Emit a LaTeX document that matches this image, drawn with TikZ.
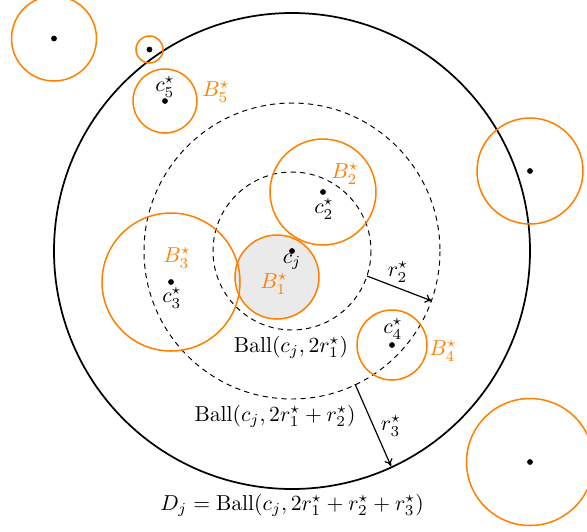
\documentclass[tikz,border=0pt]{standalone}
\usetikzlibrary{arrows.meta}
\definecolor{ballorange}{RGB}{255,128,0}
\definecolor{ballgray}{RGB}{234,234,234}
\tikzset{
  ob/.style={draw=ballorange, line width=0.7pt},
  dsh/.style={draw=black, dash pattern=on 2.4pt off 2pt, line width=0.45pt},
  pt/.style={fill=black},
  olab/.style={text=ballorange},
  arr/.style={-{To[length=3.2pt,width=4pt]}, line width=0.55pt}
}
\begin{document}
\begin{tikzpicture}[x=0.4625pt,y=-0.4625pt]
\useasboundingbox (0,0) rectangle (587,531);
\clip (0,0) rectangle (587,531);
% centres
\coordinate (cj) at (292,251);
\coordinate (c1) at (277,277);
\coordinate (c2) at (323,192);
\coordinate (c3) at (171,282);
\coordinate (c4) at (392,345);
\coordinate (c5) at (165,101);
\coordinate (o1) at (54,38.5);
\coordinate (o2) at (149.5,49.5);
\coordinate (o3) at (530,171);
\coordinate (o4) at (530,462);
% B1 filled
\fill[ballgray] (c1) circle (42);
\draw[ob] (c1) circle (42);
% dashed balls
\draw[dsh] (cj) circle (79);
\draw[dsh] (cj) circle (148);
% D_j
\draw[line width=0.8pt] (cj) circle (238);
% other balls
\draw[ob] (c2) circle (53);
\draw[ob] (c3) circle (69);
\draw[ob] (c4) circle (35);
\draw[ob] (c5) circle (32);
\draw[ob] (o1) circle (42.5);
\draw[ob] (o2) circle (13.5);
\draw[ob] (o3) circle (53);
\draw[ob] (o4) circle (63.5);
% dots
\foreach \p in {cj,c2,c3,c4,c5,o1,o2,o3,o4}
  \fill[pt] (\p) circle (2.9);
% radius arrows
\coordinate (r2a) at (367,276);
\coordinate (r2b) at (432,301);
\coordinate (r3a) at (355,384);
\coordinate (r3b) at (391,466);
\draw[arr] (r2a) -- (r2b);
\draw[arr] (r3a) -- (r3b);
% labels
\node (lc5) at (165,87) {$c_5^\star$};
\node[olab] (lB5) at (216,92) {$B_5^\star$};
\node[olab] (lB2) at (345,174) {$B_2^\star$};
\node (lc2) at (324,209) {$c_2^\star$};
\node (lcj) at (292,262) {$c_j$};
\node[olab] (lB1) at (274,284) {$B_1^\star$};
\node[olab] (lB3) at (177,258) {$B_3^\star$};
\node (lc3) at (172,298) {$c_3^\star$};
\node (lc4) at (393,329) {$c_4^\star$};
\node[olab] (lB4) at (443,351) {$B_4^\star$};
\node (lb1) at (291,347) {$\mathrm{Ball}(c_j, 2r_1^\star)$};
\node (lb2) at (275,416) {$\mathrm{Ball}(c_j, 2r_1^\star + r_2^\star)$};
\node (lr2) at (398,272) {$r_2^\star$};
\node (lr3) at (391,426) {$r_3^\star$};
\node (lD) at (292,505) {$D_j = \mathrm{Ball}(c_j, 2r_1^\star + r_2^\star + r_3^\star)$};
\end{tikzpicture}
\end{document}
